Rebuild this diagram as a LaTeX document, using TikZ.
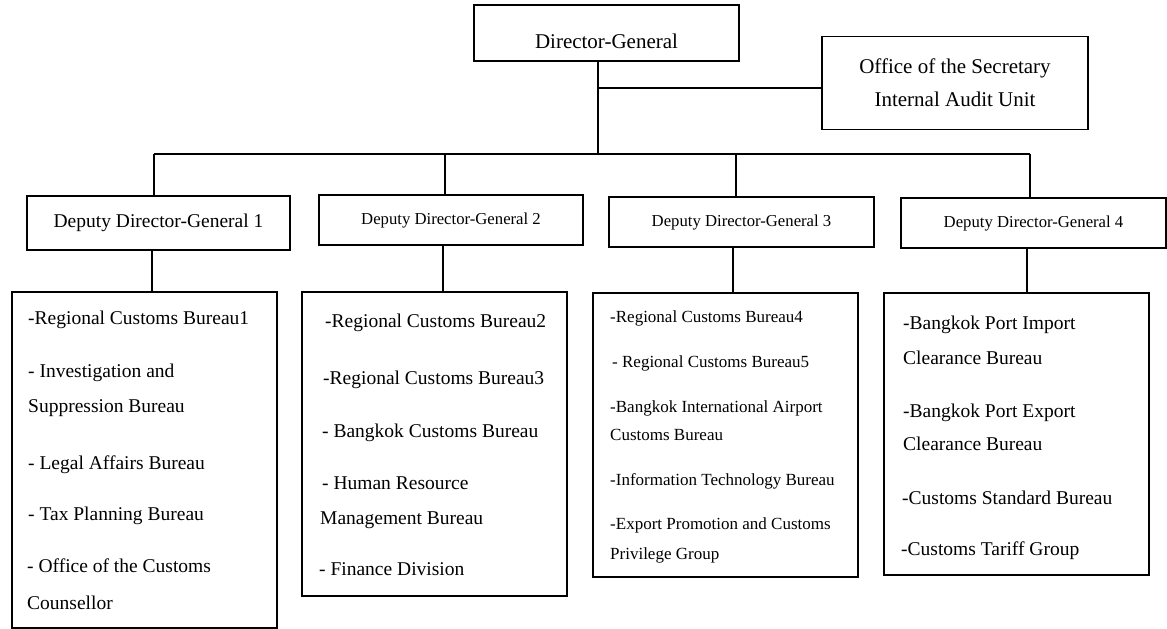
\documentclass[tikz,border=0pt]{standalone}
\usepackage{fontspec}
\setmainfont{Liberation Serif}
\begin{document}
\begin{tikzpicture}[x=1pt,y=-1pt,
  box/.style={draw, line width=1.5pt, inner sep=0pt},
  conn/.style={line width=1.5pt},
  hbox/.style={box, text height=1.12em, text depth=0.2em},
  item/.style={anchor=west, inner sep=0pt, text height=0.7em, text depth=0.2em},
  big/.style={font=\fontsize{19.5}{19.5}\selectfont},
  small/.style={font=\fontsize{17}{17}\selectfont},
  hd/.style={font=\fontsize{16.7}{16.7}\selectfont}]
\useasboundingbox (0,0) rectangle (1167,629);
% boxes
\node[box, minimum width=265pt, minimum height=56pt] (dg) at (606.5,33) {};
\node[inner sep=0pt, font=\fontsize{21}{21}\selectfont] (dgt) at (606.5,41) {Director-General};
\node[box, minimum width=266pt, minimum height=93pt, align=center,
      font=\fontsize{21}{33}\selectfont] (sec) at (955,83) {Office of the Secretary\\Internal Audit Unit};
\node[hbox, big, minimum width=263pt, minimum height=54pt] (ddg1) at (158.5,223) {Deputy Director-General 1};
\node[hbox, hd, minimum width=264pt, minimum height=50pt] (ddg2) at (451,220) {Deputy Director-General 2};
\node[hbox, hd, minimum width=265pt, minimum height=50pt] (ddg3) at (741.5,222) {Deputy Director-General 3};
\node[hbox, hd, minimum width=265pt, minimum height=50pt] (ddg4) at (1033.5,223) {Deputy Director-General 4};
\node[box, minimum width=265pt, minimum height=336pt] (l1) at (144.5,460) {};
\node[box, minimum width=265pt, minimum height=304pt] (l2) at (434.5,444) {};
\node[box, minimum width=265pt, minimum height=284pt] (l3) at (725.5,435) {};
\node[box, minimum width=265pt, minimum height=282pt] (l4) at (1016.5,434) {};
% connector points
\coordinate (stem) at (598,154);
\coordinate (jn) at (598,88);
\coordinate (b1) at (154,154);
\coordinate (b2) at (445,154);
\coordinate (b3) at (736,154);
\coordinate (b4) at (1030,154);
\coordinate (d1) at (152,0);
\coordinate (d2) at (443,0);
\coordinate (d3) at (733,0);
\coordinate (d4) at (1027,0);
% connectors
\draw[conn] (dg.south -| stem) -- (stem);
\draw[conn] (jn) -- (jn -| sec.west);
\draw[conn] (b1) -- (b4);
\draw[conn] (b1) -- (b1 |- ddg1.north);
\draw[conn] (b2) -- (b2 |- ddg2.north);
\draw[conn] (b3) -- (b3 |- ddg3.north);
\draw[conn] (b4) -- (b4 |- ddg4.north);
\draw[conn] (ddg1.south -| d1) -- (l1.north -| d1);
\draw[conn] (ddg2.south -| d2) -- (l2.north -| d2);
\draw[conn] (ddg3.south -| d3) -- (l3.north -| d3);
\draw[conn] (ddg4.south -| d4) -- (l4.north -| d4);
% list 1
\foreach \n/\x/\y/\t in {a/28/322/{-Regional Customs Bureau1},
  b/28/375/{- Investigation and}, c/28/410/{Suppression Bureau},
  d/28/467/{- Legal Affairs Bureau}, e/28/518/{- Tax Planning Bureau},
  f/27/570/{- Office of the Customs}, g/27/607/{Counsellor}}
  \node[item, big] (p1\n) at (\x,\y) {\t};
% list 2
\foreach \n/\x/\y/\t in {a/325/325/{-Regional Customs Bureau2},
  b/323/382/{-Regional Customs Bureau3}, c/322/435/{- Bangkok Customs Bureau},
  d/322/487/{- Human Resource}, e/320/522/{Management Bureau},
  f/319/573/{- Finance Division}}
  \node[item, big] (p2\n) at (\x,\y) {\t};
% list 3
\foreach \n/\x/\y/\t in {a/610/320/{-Regional Customs Bureau4},
  b/612/365/{- Regional Customs Bureau5}, c/610/410/{-Bangkok International Airport},
  d/610/438/{Customs Bureau}, e/610/483/{-Information Technology Bureau},
  f/610/527/{-Export Promotion and Customs}, g/610/557/{Privilege Group}}
  \node[item, small] (p3\n) at (\x,\y) {\t};
% list 4
\foreach \n/\x/\y/\t in {a/903/327/{-Bangkok Port Import},
  b/903/362/{Clearance Bureau}, c/903/415/{-Bangkok Port Export},
  d/903/448/{Clearance Bureau}, e/902/502/{-Customs Standard Bureau},
  f/901/553/{-Customs Tariff Group}}
  \node[item, big] (p4\n) at (\x,\y) {\t};
\end{tikzpicture}
\end{document}
